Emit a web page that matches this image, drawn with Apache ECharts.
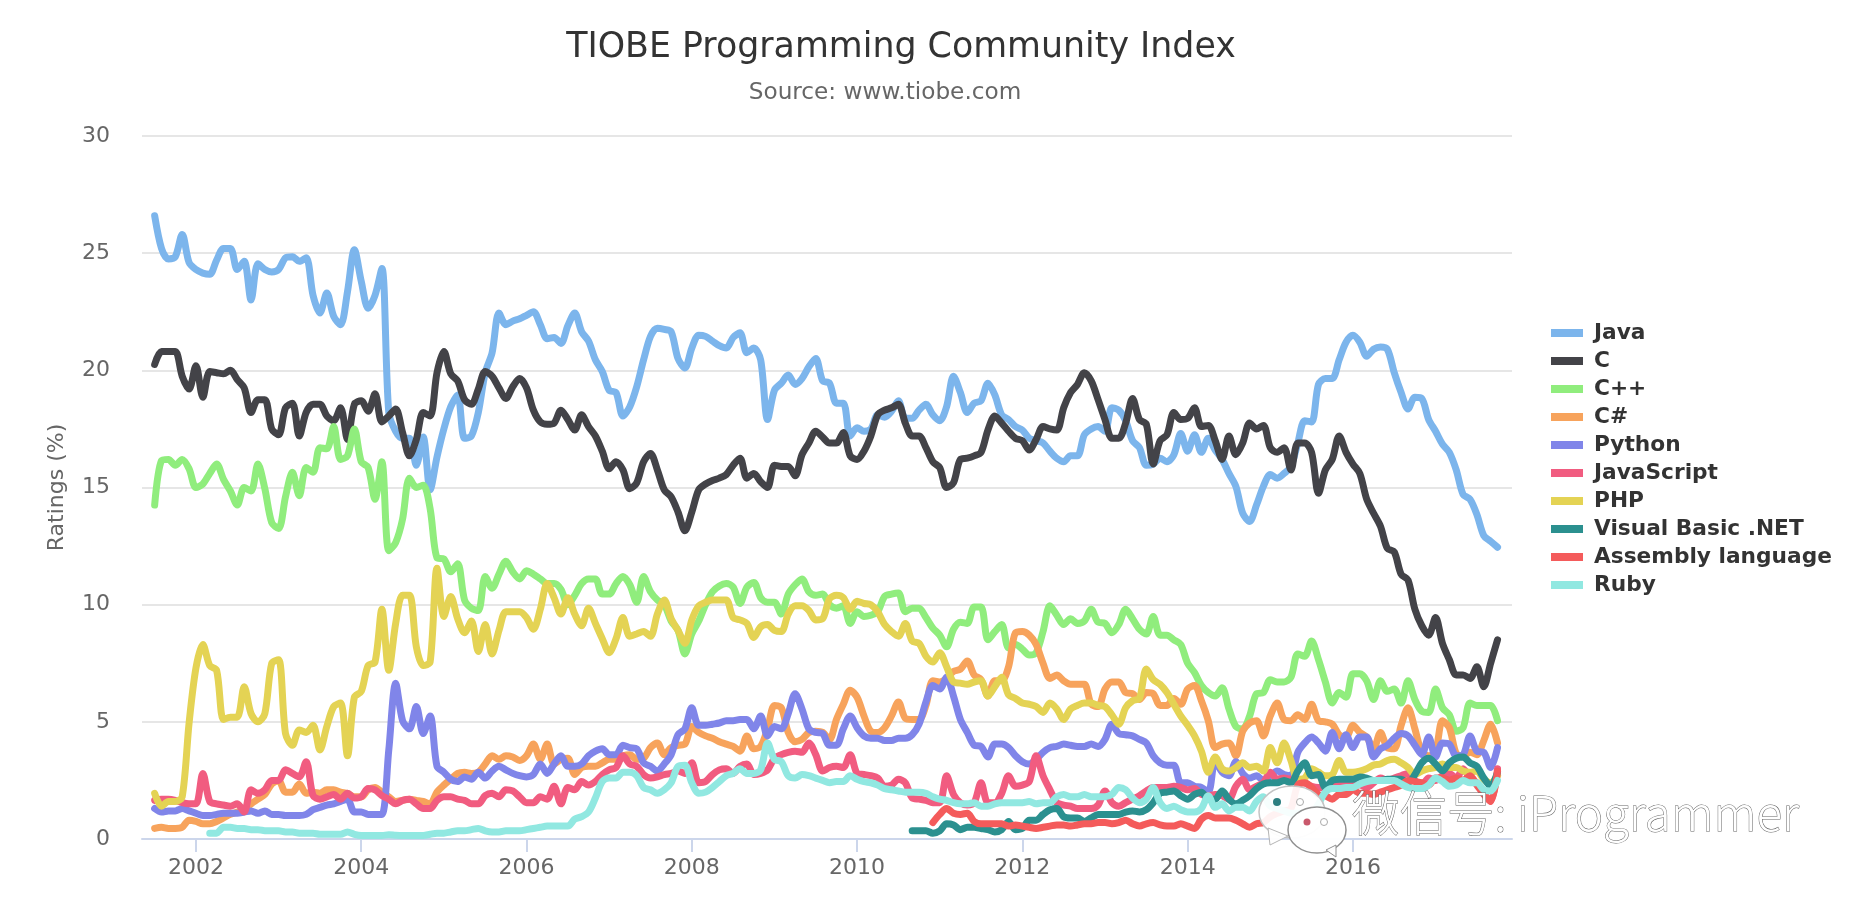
<!DOCTYPE html>
<html>
<head>
<meta charset="utf-8">
<title>TIOBE Programming Community Index</title>
<script src="https://cdn.jsdelivr.net/npm/echarts@6/dist/echarts.min.js"></script>
<style>
  html, body { margin: 0; padding: 0; background: #fff; }
  #main { width: 1858px; height: 910px; }
</style>
</head>
<body>
<div id="main"></div>
<script>
// monthly ratings, first value is Jul 2001, last is Oct 2017
var java = [26.6,25.2,24.75,24.85,25.8,24.6,24.3,24.15,24.1,24.7,25.2,25.2,24.3,24.65,23.0,24.55,24.3,24.2,24.3,24.8,24.85,24.65,24.8,23.2,22.45,23.3,22.3,21.95,23.35,25.15,23.8,22.65,23.2,24.35,18.2,17.4,17.1,17.1,15.95,17.15,14.9,16.3,17.5,18.45,18.95,17.1,17.2,18.2,19.9,
  20.75,22.45,21.95,22.1,22.2,22.35,22.5,21.95,21.35,21.4,21.15,21.9,22.45,21.65,21.25,20.45,19.95,19.15,19.05,18.05,18.45,19.3,20.45,21.45,21.8,21.75,21.65,20.5,20.1,20.95,21.5,21.45,21.25,21.05,20.95,21.4,21.6,20.75,20.95,20.45,17.9,19.15,19.45,19.8,19.4,19.65,20.15,20.5,19.55,19.45,18.6,
  18.6,17.2,17.55,17.4,17.5,18.1,18.0,18.25,18.7,17.95,17.95,18.3,18.55,18.1,17.85,18.45,19.75,19.05,18.2,18.6,18.7,19.45,18.95,18.1,17.9,17.6,17.45,17.1,17.0,16.9,16.55,16.25,16.1,16.35,16.35,17.25,17.5,17.6,17.4,18.4,18.3,17.85,17.0,16.7,15.95,16.0,16.25,16.1,16.4,17.3,16.55,
  17.25,16.5,17.1,16.6,16.2,15.6,15.05,13.9,13.55,14.25,15.05,15.55,15.4,15.6,15.9,16.9,17.85,17.8,19.4,19.65,19.65,20.45,21.2,21.5,21.2,20.6,20.9,21.0,20.9,19.9,19.05,18.35,18.85,18.8,17.9,17.4,16.85,16.5,15.75,14.7,14.5,13.85,12.95,12.7,12.45];
var cLang = [20.25,20.8,20.8,20.8,19.75,19.2,20.2,18.85,19.95,19.9,19.85,20.0,19.6,19.25,18.2,18.75,18.75,17.5,17.25,18.4,18.6,17.2,18.2,18.55,18.55,18.05,17.85,18.4,17.05,18.55,18.7,18.25,19.0,17.8,18.05,18.35,17.35,16.35,17.05,18.2,18.05,19.9,20.8,19.85,19.55,18.75,18.55,19.2,19.95,
  19.75,19.25,18.8,19.3,19.65,19.25,18.3,17.8,17.7,17.75,18.3,17.9,17.45,18.1,17.6,17.2,16.55,15.8,16.1,15.75,14.95,15.2,16.1,16.45,15.75,14.9,14.6,13.95,13.15,13.95,14.9,15.15,15.3,15.4,15.55,15.95,16.25,15.4,15.6,15.25,15.0,15.95,15.9,15.9,15.5,16.4,16.9,17.4,17.15,16.9,16.9,
  17.35,16.35,16.2,16.55,17.2,18.1,18.3,18.4,18.55,17.75,17.2,17.2,16.7,16.1,15.85,15.0,15.2,16.2,16.25,16.35,16.5,17.45,18.05,17.75,17.4,17.1,17.0,16.6,17.05,17.6,17.5,17.45,18.4,19.05,19.4,19.9,19.55,18.75,17.9,17.1,17.1,17.75,18.8,17.9,17.7,16.0,17.0,17.25,18.2,17.9,17.95,
  18.4,17.6,17.65,17.0,16.2,17.2,16.4,16.9,17.75,17.5,17.65,16.7,16.5,16.7,15.75,16.9,16.9,16.5,14.75,15.75,16.2,17.2,16.5,16.0,15.6,14.5,13.9,13.35,12.4,12.25,11.3,11.05,9.8,9.1,8.7,9.45,8.35,7.65,7.0,7.0,6.85,7.35,6.5,7.5,8.5];
var cpp = [14.25,16.15,16.2,15.95,16.2,15.8,15.0,15.15,15.6,16.0,15.35,14.85,14.25,15.0,14.85,16.0,14.95,13.5,13.25,14.6,15.65,14.65,15.85,15.65,16.7,16.65,17.6,16.2,16.35,17.5,16.1,15.85,14.5,16.1,12.3,12.65,13.65,15.4,15.0,15.1,14.1,12.0,11.95,11.4,11.75,10.2,9.85,9.75,11.2,
  10.7,11.3,11.85,11.4,11.1,11.45,11.3,11.1,10.9,10.9,10.65,10.0,10.4,10.9,11.1,11.1,10.45,10.45,10.9,11.2,10.85,10.1,11.2,10.55,10.2,10.0,9.3,8.9,7.9,8.75,9.3,10.0,10.55,10.8,10.9,10.75,10.05,10.75,10.95,10.3,10.1,10.1,9.6,10.45,10.85,11.1,10.55,10.4,10.45,10.0,9.85,
  9.95,9.2,9.7,9.5,9.55,9.7,10.35,10.45,10.5,9.7,9.85,9.85,9.45,9.0,8.7,8.2,8.95,9.25,9.2,9.9,9.9,8.5,8.85,9.15,8.15,8.3,8.1,7.85,7.95,8.85,9.95,9.55,9.15,9.4,9.2,9.3,9.8,9.25,9.2,8.8,9.15,9.8,9.4,8.95,8.75,9.5,8.7,8.7,8.5,8.3,7.5,
  7.1,6.55,6.25,6.1,6.45,5.55,4.8,4.7,5.25,6.2,6.25,6.8,6.7,6.7,6.9,7.9,7.8,8.45,7.65,6.7,5.8,6.25,6.05,7.05,7.05,6.75,5.95,6.75,6.3,6.4,5.8,6.75,5.95,5.45,5.4,6.4,5.6,5.3,4.6,4.75,5.8,5.7,5.7,5.7,5.05];
var cSharp = [0.45,0.5,0.45,0.45,0.5,0.8,0.75,0.65,0.65,0.75,0.9,1.05,1.15,1.25,1.5,1.7,1.9,2.35,2.5,2.0,2.0,2.35,1.95,2.0,1.95,2.1,2.1,2.0,1.95,1.8,1.8,2.1,2.2,2.0,1.8,1.6,1.65,1.7,1.65,1.6,1.5,2.0,2.3,2.55,2.8,2.85,2.8,2.85,3.2,
  3.55,3.4,3.55,3.5,3.35,3.55,4.05,3.4,4.05,3.2,3.4,3.45,2.75,3.05,3.1,3.1,3.25,3.4,3.4,3.55,3.6,3.4,3.45,3.9,4.1,3.6,3.9,4.0,4.05,4.8,4.55,4.4,4.3,4.15,4.05,3.95,3.75,4.4,3.85,3.95,4.7,5.7,5.6,4.55,4.15,4.25,4.55,4.6,4.55,4.25,5.1,
  5.75,6.35,6.05,5.25,4.6,4.55,4.75,5.25,5.85,5.15,5.1,5.1,5.7,6.75,6.7,6.85,7.15,7.25,7.6,7.0,6.8,6.1,6.75,6.75,7.35,8.8,8.85,8.7,8.3,7.5,6.85,7.0,6.75,6.6,6.6,6.6,5.75,5.65,6.4,6.7,6.7,6.25,6.2,5.95,6.25,6.2,5.7,5.7,6.0,5.75,6.4,
  6.55,5.9,5.05,3.9,4.05,4.1,3.55,4.6,4.95,5.05,4.4,5.25,5.8,5.1,5.05,5.3,5.1,5.75,5.05,5.0,4.9,4.45,4.35,4.85,4.55,4.35,3.85,4.55,3.9,3.85,4.85,5.6,4.7,3.7,3.55,3.75,5.05,4.75,3.65,3.55,3.7,3.6,4.2,4.9,4.1];
var python = [1.3,1.15,1.2,1.2,1.3,1.2,1.1,1.0,1.0,1.05,1.1,1.1,1.1,1.15,1.2,1.1,1.2,1.05,1.05,1.0,1.0,1.0,1.05,1.25,1.35,1.45,1.5,1.6,1.7,1.15,1.15,1.05,1.05,1.05,3.8,6.65,5.05,4.7,5.65,4.5,5.25,3.1,2.85,2.55,2.45,2.65,2.55,2.85,2.6,
  2.9,3.1,2.95,2.8,2.7,2.65,2.75,3.2,2.8,3.2,3.55,3.1,3.1,3.2,3.55,3.75,3.85,3.6,3.6,4.0,3.9,3.85,3.25,3.1,2.9,3.2,3.6,4.45,4.7,5.6,4.85,4.85,4.9,4.95,5.05,5.05,5.1,5.1,4.7,5.25,4.4,4.8,4.7,5.35,6.2,5.55,4.7,4.55,4.5,4.0,4.0,
  4.7,5.25,4.75,4.4,4.3,4.3,4.2,4.2,4.3,4.3,4.45,4.9,5.85,6.55,6.4,6.9,6.1,5.1,4.55,4.0,3.95,3.5,4.05,4.05,3.9,3.55,3.3,3.2,3.4,3.7,3.9,3.95,4.05,4.0,3.95,3.95,4.05,3.95,4.25,4.9,4.5,4.45,4.4,4.25,4.1,3.55,3.25,3.15,3.15,2.4,2.4,
  2.25,2.2,2.0,3.35,2.85,2.7,3.3,2.8,2.6,2.7,2.5,2.7,2.9,2.75,2.7,3.7,4.1,4.35,4.1,3.75,4.55,3.85,4.45,3.9,4.35,4.35,3.5,3.85,4.0,4.3,4.5,4.4,4.0,3.6,4.35,3.5,4.1,4.05,3.55,3.6,4.4,3.75,3.7,3.05,3.9];
var javascript = [1.65,1.7,1.7,1.65,1.55,1.5,1.5,2.8,1.6,1.5,1.45,1.4,1.5,1.15,2.1,1.95,2.1,2.5,2.5,2.95,2.8,2.65,3.3,1.85,1.7,1.8,1.9,1.7,1.95,1.75,1.8,2.15,2.1,1.85,1.7,1.5,1.65,1.7,1.5,1.3,1.3,1.65,1.8,1.8,1.7,1.65,1.5,1.5,1.85,
  1.95,1.8,2.1,2.05,1.8,1.55,1.55,1.8,1.7,2.25,1.5,2.2,2.1,2.45,2.3,2.45,2.75,2.95,3.05,3.55,3.2,3.1,2.75,2.6,2.65,2.75,2.8,2.9,2.8,3.25,2.4,2.45,2.75,2.95,3.0,2.8,3.1,3.2,2.75,2.8,2.95,3.45,3.6,3.7,3.75,3.7,4.1,3.6,2.9,3.05,3.1,
  3.05,3.6,2.8,2.75,2.7,2.6,2.25,2.3,2.55,2.4,1.75,1.7,1.65,1.55,1.55,2.7,1.9,1.55,1.45,1.55,2.4,1.55,1.55,1.95,2.7,2.25,2.3,2.45,3.55,2.7,2.1,1.55,1.45,1.4,1.3,1.3,1.3,1.45,2.05,1.55,1.4,1.55,1.7,1.85,2.05,2.2,2.2,2.2,2.25,2.2,2.1,
  2.15,1.9,1.85,1.9,1.85,1.7,2.25,2.55,2.1,2.25,2.4,2.85,2.55,2.6,2.55,2.55,2.4,2.25,2.2,2.2,2.3,2.3,2.4,2.3,2.3,2.2,2.4,2.6,2.5,2.6,2.7,2.8,2.5,2.3,2.6,2.5,2.7,2.8,2.6,3.0,2.6,2.4,1.95,1.6,3.0];
var php = [1.95,1.4,1.6,1.6,1.8,4.95,7.3,8.3,7.4,7.2,5.1,5.2,5.2,6.5,5.35,5.0,5.35,7.5,7.65,4.5,4.0,4.65,4.55,4.85,3.8,4.8,5.65,5.8,3.55,6.05,6.3,7.4,7.55,9.8,7.2,9.2,10.4,10.4,8.2,7.4,7.55,11.55,9.5,10.35,9.4,8.8,9.3,8.0,9.15,
  7.9,8.9,9.7,9.7,9.7,9.45,8.95,9.8,10.9,10.3,9.6,10.3,9.6,9.1,9.85,9.2,8.55,7.95,8.55,9.45,8.65,8.75,8.85,8.65,9.6,10.2,9.4,8.9,8.35,9.35,9.95,10.1,10.2,10.2,10.2,9.45,9.35,9.2,8.6,9.05,9.15,8.9,8.85,9.6,9.95,9.95,9.75,9.35,9.4,10.25,10.4,
  10.3,9.8,10.15,10.05,10.0,9.7,9.15,8.85,8.65,9.2,8.45,8.35,7.8,7.55,7.95,7.35,6.7,6.65,6.6,6.7,6.75,6.1,6.5,6.9,6.15,6.0,5.8,5.75,5.65,5.4,5.8,5.55,5.1,5.55,5.7,5.8,5.8,5.7,5.65,5.3,4.9,5.6,5.9,6.0,7.25,6.8,6.6,6.25,5.75,5.25,4.85,
  4.4,3.75,2.85,3.5,3.0,2.9,3.05,3.25,3.05,3.1,2.9,3.9,3.25,4.1,3.35,2.55,2.6,3.0,2.85,2.7,2.75,3.35,2.85,2.85,2.9,3.0,3.15,3.2,3.35,3.4,3.25,3.05,2.75,2.9,3.0,3.05,3.2,3.05,3.05,2.9,2.85,2.9,2.55,2.4,2.7];
var vbNetStart = 110; // series has no values before this month index
var vbNet = [0.35,0.35,0.35,0.25,0.35,0.65,0.6,0.4,0.5,0.5,0.45,0.4,0.3,0.4,0.75,0.4,0.45,0.8,0.8,1.05,1.25,1.3,0.95,0.9,0.9,0.75,0.9,1.05,1.05,1.05,1.05,1.15,1.2,1.15,1.25,1.55,1.95,2.0,2.05,1.85,1.7,
  1.9,2.0,1.7,1.7,2.05,1.7,1.5,1.65,1.85,2.15,2.35,2.4,2.4,2.5,2.4,2.9,3.25,2.7,2.75,2.2,2.5,2.55,2.55,2.55,2.65,2.6,2.5,2.5,2.55,2.55,2.55,2.4,2.75,3.25,3.45,3.2,2.9,3.25,3.45,3.5,3.25,3.1,2.6,2.25,2.85];
var asmStart = 113;
var assembly = [0.7,1.05,1.3,1.1,1.05,1.1,0.75,0.65,0.65,0.65,0.65,0.55,0.6,0.55,0.5,0.45,0.5,0.55,0.6,0.6,0.55,0.6,0.65,0.65,0.7,0.7,0.65,0.7,0.8,0.65,0.55,0.65,0.7,0.6,0.55,0.55,0.65,0.55,
  0.45,0.85,1.0,0.9,0.9,0.9,0.8,0.65,0.5,0.65,0.7,0.95,1.1,1.2,1.3,2.3,2.4,2.2,1.9,1.85,1.7,1.9,1.9,2.1,1.95,1.95,1.9,2.0,2.1,2.2,2.3,2.5,2.45,2.4,2.3,2.6,2.6,2.5,2.6,2.5,2.7,2.3,1.9,1.6,2.9];
var rubyStart = 8;
var ruby = [0.25,0.25,0.5,0.5,0.45,0.45,0.4,0.4,0.35,0.35,0.35,0.3,0.3,0.25,0.25,0.25,0.2,0.2,0.2,0.2,0.3,0.2,0.15,0.15,0.15,0.15,0.18,0.16,0.15,0.15,0.15,0.15,0.2,0.25,0.25,0.3,0.35,0.35,0.4,0.45,0.35,
  0.3,0.3,0.35,0.35,0.35,0.4,0.45,0.5,0.55,0.55,0.55,0.55,0.85,0.95,1.15,1.75,2.45,2.6,2.6,2.85,2.85,2.7,2.2,2.1,1.95,2.1,2.4,3.1,3.15,2.4,1.95,2.0,2.2,2.45,2.7,2.8,3.0,2.8,2.8,2.95,4.1,3.4,3.3,2.7,2.6,2.75,2.7,2.6,2.5,2.4,2.45,
  2.45,2.7,2.55,2.45,2.4,2.3,2.15,2.1,2.05,2.0,2.0,2.0,1.95,1.8,1.7,1.65,1.55,1.5,1.5,1.55,1.4,1.4,1.5,1.55,1.55,1.55,1.55,1.6,1.5,1.55,1.55,1.8,1.9,1.8,1.8,1.9,1.8,1.8,1.8,1.9,2.2,2.1,1.75,1.55,1.7,2.2,1.55,1.3,1.4,1.25,1.15,
  1.15,1.3,1.85,1.35,1.5,1.2,1.35,1.35,1.2,1.6,1.8,1.4,1.3,1.2,1.1,1.1,1.1,1.1,1.5,2.0,2.15,2.15,2.2,2.2,2.35,2.45,2.5,2.5,2.5,2.5,2.35,2.2,2.15,2.15,2.3,2.6,2.45,2.25,2.3,2.5,2.4,2.4,2.1,2.05,2.5];

var seriesNames = ['Java', 'C', 'C++', 'C#', 'Python', 'JavaScript', 'PHP', 'Visual Basic .NET', 'Assembly language', 'Ruby'];
var seriesValues = [java, cLang, cpp, cSharp, python, javascript, php, vbNet, assembly, ruby];
var seriesStarts = [0, 0, 0, 0, 0, 0, 0, vbNetStart, asmStart, rubyStart];
var colors = ['#7cb5ec', '#434348', '#90ed7d', '#f7a35c', '#8085e9', '#f15c80', '#e4d354', '#2b908f', '#f45b5b', '#91e8e1'];
var tickYears = [2002, 2004, 2006, 2008, 2010, 2012, 2014, 2016];

// x position of a month as a decimal year, index 0 is Jul 2001
function monthYear(index) {
  return 2001.5 + index / 12;
}

var fontFamily = '"DejaVu Sans", sans-serif';

var chart = echarts.init(document.getElementById('main'), null, { renderer: 'canvas' });

chart.setOption({
  animation: false,
  backgroundColor: '#ffffff',
  color: colors,
  textStyle: { fontFamily: fontFamily },
  title: [
    {
      text: 'TIOBE Programming Community Index',
      left: 896, top: 25, textAlign: 'center',
      textStyle: { fontSize: 34.8, fontWeight: 'normal', color: '#333333', fontFamily: fontFamily }
    },
    {
      text: 'Source: www.tiobe.com',
      left: 880, top: 76, textAlign: 'center',
      textStyle: { fontSize: 23.2, fontWeight: 'normal', color: '#666666', fontFamily: fontFamily }
    }
  ],
  legend: {
    orient: 'vertical',
    left: 1546, top: 316,
    icon: 'rect',
    itemWidth: 32, itemHeight: 8, itemGap: 4,
    textStyle: { fontSize: 21.7, fontWeight: 'bold', color: '#333333', fontFamily: fontFamily, lineHeight: 24, padding: [0, 0, 0, 6] },
    data: seriesNames
  },
  grid: { left: 142, right: 346, top: 136, bottom: 71 },
  xAxis: {
    type: 'value',
    min: 2001.347,
    max: 2017.925,
    axisLine: { lineStyle: { color: '#ccd6eb', width: 2 } },
    axisTick: { show: true, length: 13, customValues: tickYears, lineStyle: { color: '#ccd6eb', width: 2 } },
    axisLabel: {
      customValues: tickYears,
      margin: 18,
      fontSize: 22,
      color: '#666666',
      formatter: function (v) { return String(v); }
    },
    splitLine: { show: false }
  },
  yAxis: {
    type: 'value',
    min: 0, max: 30, interval: 5,
    name: 'Ratings (%)',
    nameLocation: 'middle',
    nameRotate: 90,
    nameGap: 74,
    nameTextStyle: { fontSize: 22, color: '#666666', fontFamily: fontFamily },
    axisLine: { show: false },
    axisTick: { show: false },
    axisLabel: { margin: 32, fontSize: 22, color: '#666666', padding: [5, 0, 0, 0] },
    splitLine: { lineStyle: { color: '#e6e6e6', width: 2 } }
  },
  series: seriesNames.map(function (name, s) {
    return {
      name: name,
      type: 'line',
      smooth: 0.3,
      showSymbol: false,
      symbol: 'none',
      lineStyle: { width: 7, color: colors[s], cap: 'round', join: 'round' },
      itemStyle: { color: colors[s] },
      data: seriesValues[s].map(function (v, i) {
        return [monthYear(i + seriesStarts[s]), v];
      })
    };
  }),
  // wechat account mark stamped over the lower right of the picture
  graphic: [
    { type: 'ellipse', shape: { cx: 1292, cy: 812, rx: 33, ry: 26 }, style: { fill: 'rgba(255,255,255,0.92)', stroke: '#c4c4c4', lineWidth: 1.5 }, z: 50 },
    { type: 'polygon', shape: { points: [[1268, 828], [1270, 845], [1288, 836]] }, style: { fill: 'rgba(255,255,255,0.95)', stroke: '#b5b5b5', lineWidth: 1 }, z: 50 },
    { type: 'ellipse', shape: { cx: 1317, cy: 830, rx: 29, ry: 23 }, style: { fill: 'rgba(255,255,255,0.96)', stroke: '#8f8f8f', lineWidth: 1.5 }, z: 51 },
    { type: 'polygon', shape: { points: [[1326, 850], [1336, 857], [1336, 845]] }, style: { fill: 'rgba(255,255,255,0.96)', stroke: '#8f8f8f', lineWidth: 1 }, z: 51 },
    { type: 'circle', shape: { cx: 1277, cy: 802, r: 4 }, style: { fill: '#2b7f80' }, z: 52 },
    { type: 'circle', shape: { cx: 1300, cy: 802, r: 3.5 }, style: { fill: '#ffffff', stroke: '#aaaaaa' }, z: 52 },
    { type: 'circle', shape: { cx: 1307, cy: 822, r: 3.5 }, style: { fill: '#c9596c' }, z: 52 },
    { type: 'circle', shape: { cx: 1324, cy: 822, r: 3.5 }, style: { fill: '#ffffff', stroke: '#aaaaaa' }, z: 52 },
    {
      type: 'text', x: 1352, y: 789, z: 53,
      style: {
        text: '微信号: iProgrammer',
        font: '300 47.5px "Noto Sans CJK SC", sans-serif',
        fill: '#ffffff', stroke: '#666666', lineWidth: 1
      }
    }
  ]
});
</script>
</body>
</html>
